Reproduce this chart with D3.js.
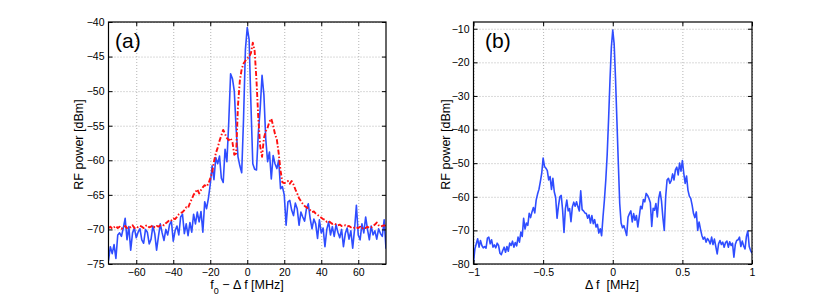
<!DOCTYPE html>
<html><head><meta charset="utf-8">
<script src="https://cdn.jsdelivr.net/npm/d3@7"></script>
<style>
body{margin:0;background:#fff;}
svg text{font-family:"Liberation Sans",Arial,Helvetica,sans-serif;fill:#000;}
</style></head><body>
<svg id="c" width="830" height="297"></svg>
<script>
// ---------- Panel (a) data: f0 - Δf from -75 to 75 MHz, 1 MHz step ----------
const aStart = -75, aStep = 1;
const blueA = [
-74.5,-72.5,-73.5,-72.2,-74.2,-70.8,-70.5,-71.0,-69.8,-68.4,
-71.5,-69.6,-73.0,-70.5,-69.8,-71.2,-70.4,-69.9,-71.5,-72.0,
-70.0,-70.4,-72.1,-71.4,-69.5,-70.6,-73.0,-71.0,-69.2,-70.5,
-71.6,-70.0,-70.8,-69.3,-68.8,-71.7,-70.2,-69.5,-70.8,-68.2,
-67.8,-70.6,-69.2,-70.9,-69.0,-70.4,-67.8,-69.2,-67.5,-68.9,
-67.4,-70.4,-66.0,-67.0,-65.5,-63.5,-60.8,-62.8,-59.6,-60.5,
-59.4,-62.6,-63.2,-58.4,-60.2,-54.5,-47.5,-48.2,-50.0,-55.5,
-59.5,-60.8,-61.8,-54.0,-44.0,-40.8,-42.5,-52.0,-60.5,-61.3,
-61.4,-56.0,-52.5,-47.7,-50.5,-56.9,-60.2,-58.8,-62.7,-59.3,
-60.5,-61.2,-60.0,-64.1,-63.8,-65.0,-69.4,-66.0,-65.8,-67.2,
-68.0,-66.2,-67.0,-69.4,-67.5,-68.2,-68.8,-67.0,-66.3,-68.4,
-69.9,-68.5,-69.2,-71.3,-68.6,-70.5,-69.8,-72.5,-70.0,-68.9,
-70.8,-69.6,-71.0,-69.3,-70.4,-71.2,-70.0,-72.5,-70.6,-69.8,
-71.4,-70.2,-72.7,-70.0,-66.5,-70.8,-71.5,-69.2,-70.5,-68.2,
-70.0,-71.5,-69.5,-70.8,-70.2,-71.4,-69.9,-70.6,-71.0,-68.6,
-72.8];
const redA = [
-69.8,-69.6,-69.9,-69.7,-69.5,-69.8,-69.6,-69.9,-69.7,-69.5,
-69.8,-69.6,-69.7,-69.4,-69.8,-69.6,-69.7,-69.5,-69.6,-69.8,
-69.5,-69.4,-69.7,-69.6,-69.4,-69.7,-69.5,-69.6,-69.4,-69.3,
-69.4,-69.1,-68.9,-68.6,-68.7,-68.4,-68.5,-68.2,-67.8,-67.6,
-67.5,-67.2,-66.8,-66.9,-66.2,-65.6,-65.0,-64.6,-64.2,-64.8,
-64.3,-63.9,-63.6,-63.8,-63.4,-62.6,-61.8,-60.2,-59.0,-58.2,
-57.2,-56.4,-55.6,-56.2,-56.8,-57.1,-56.8,-57.4,-59.2,-59.0,
-52.0,-48.5,-46.8,-46.0,-45.6,-45.3,-45.0,-44.5,-43.0,-44.2,
-48.5,-54.0,-58.0,-59.5,-56.8,-55.8,-55.3,-54.4,-54.0,-55.0,
-56.2,-57.0,-59.0,-61.5,-63.2,-63.3,-63.2,-63.0,-63.4,-63.0,
-63.5,-64.2,-64.8,-65.5,-65.9,-66.3,-66.6,-66.8,-67.0,-67.2,
-67.5,-67.4,-67.7,-67.9,-68.1,-68.3,-68.5,-68.6,-68.9,-68.8,
-69.0,-69.2,-69.1,-69.3,-69.4,-69.3,-69.5,-69.5,-69.4,-69.6,
-69.5,-69.7,-69.6,-69.8,-69.7,-69.8,-69.6,-69.9,-69.7,-69.8,
-69.6,-69.8,-69.7,-69.5,-69.3,-69.0,-69.4,-69.6,-69.5,-69.4,
-69.5];
const aXTicks = [-60,-40,-20,0,20,40,60];
const aYTicks = [-75,-70,-65,-60,-55,-50,-45,-40];

// ---------- Panel (b) data: Δf from -1 to 1 MHz, 0.01 MHz step ----------
const bStart = -1, bStep = 0.01;
const blueB = [
-79.5,-75.5,-74.0,-72.5,-75.0,-73.0,-74.5,-75.2,-74.8,-75.3,
-72.3,-72.0,-74.0,-72.8,-75.0,-74.3,-75.2,-73.8,-74.5,-76.8,
-77.2,-76.0,-75.0,-76.5,-74.8,-76.2,-73.8,-74.5,-73.2,-75.0,
-73.6,-74.6,-72.0,-73.5,-70.5,-71.8,-66.4,-69.6,-67.8,-68.5,
-64.9,-66.2,-64.5,-63.2,-64.8,-61.0,-59.2,-57.8,-55.5,-53.0,
-48.5,-51.0,-51.5,-52.2,-55.0,-54.0,-57.8,-54.5,-58.5,-60.2,
-66.4,-62.8,-60.0,-59.6,-64.0,-70.6,-63.5,-61.0,-64.2,-63.5,
-67.4,-63.0,-61.6,-62.8,-61.5,-63.0,-64.2,-58.2,-63.8,-64.2,
-64.8,-65.0,-66.4,-65.4,-67.8,-65.6,-68.0,-66.8,-69.0,-68.2,
-70.8,-69.5,-71.6,-66.0,-61.0,-55.0,-47.5,-37.0,-25.5,-15.5,
-10.4,
-14.5,-25.0,-37.5,-50.0,-62.0,-67.8,-69.2,-68.6,-70.0,-71.5,
-66.0,-65.0,-64.2,-67.5,-65.0,-67.0,-65.6,-69.0,-66.0,-62.8,
-63.6,-60.8,-61.5,-59.0,-59.6,-60.5,-61.8,-68.8,-63.4,-64.0,
-62.0,-66.0,-60.5,-58.5,-61.2,-66.2,-70.0,-60.0,-55.0,-54.5,
-56.0,-55.2,-53.2,-55.0,-52.0,-51.2,-53.5,-50.0,-52.4,-49.2,
-53.0,-56.0,-53.8,-58.0,-59.8,-60.5,-62.5,-65.0,-66.2,-64.5,
-70.0,-67.5,-69.6,-71.5,-72.6,-72.0,-73.5,-72.4,-73.0,-74.0,
-72.0,-74.2,-72.6,-74.8,-77.0,-74.0,-73.0,-74.2,-73.5,-75.0,
-73.6,-73.2,-75.0,-73.4,-74.5,-73.8,-78.0,-74.2,-73.0,-72.8,
-72.0,-74.8,-73.2,-74.6,-75.5,-71.8,-70.2,-74.8,-76.0,-76.8];
const bXTicks = [-1,-0.5,0,0.5,1];
const bYTicks = [-80,-70,-60,-50,-40,-30,-20,-10];

const BLUE = "#2f4dff", RED = "#ff1010";
const svg = d3.select("#c");

function panel(cfg){
  const {x, y, xTicks, yTicks, id} = cfg;
  const [x0,x1] = x.range(), [y0,y1] = y.range(); // y0 bottom, y1 top
  const g = svg.append("g");
  g.append("clipPath").attr("id", id).append("rect")
    .attr("x", x0).attr("y", y1).attr("width", x1-x0).attr("height", y0-y1);
  // grid
  const gridX = g.append("g").attr("transform", `translate(0,${y0})`)
    .call(d3.axisBottom(x).tickValues(xTicks).tickSize(-(y0-y1)).tickFormat(""));
  const gridY = g.append("g").attr("transform", `translate(${x0},0)`)
    .call(d3.axisLeft(y).tickValues(yTicks).tickSize(-(x1-x0)).tickFormat(""));
  [gridX, gridY].forEach(a=>{
    a.select(".domain").remove();
    a.selectAll("line").attr("stroke","#b4b4b4").attr("stroke-width",1).attr("stroke-dasharray","1,2");
  });
  // lines
  const plot = g.append("g").attr("clip-path", `url(#${id})`);
  cfg.series.forEach(s=>{
    const line = d3.line().x((d,i)=>x(s.start + i*s.step)).y(d=>y(d));
    plot.append("path").datum(s.values).attr("d", line)
      .attr("fill","none").attr("stroke", s.color).attr("stroke-width", s.width)
      .attr("stroke-dasharray", s.dash || null).attr("stroke-linejoin","round");
  });
  // axes (ticks inward) + labels
  const fmt = cfg.fmt;
  const axB = g.append("g").attr("transform", `translate(0,${y0})`)
    .call(d3.axisBottom(x).tickValues(xTicks).tickSize(-4).tickPadding(5).tickFormat(fmt));
  const axT = g.append("g").attr("transform", `translate(0,${y1})`)
    .call(d3.axisTop(x).tickValues(xTicks).tickSize(-4).tickFormat(""));
  const axL = g.append("g").attr("transform", `translate(${x0},0)`)
    .call(d3.axisLeft(y).tickValues(yTicks).tickSize(-4).tickPadding(4).tickFormat(fmt));
  const axR = g.append("g").attr("transform", `translate(${x1},0)`)
    .call(d3.axisRight(y).tickValues(yTicks).tickSize(-4).tickFormat(""));
  [axB,axT,axL,axR].forEach(a=>{
    a.select(".domain").remove();
    a.selectAll("line").attr("stroke","#000").attr("stroke-width",1);
    a.selectAll("text").attr("font-size","10.5px").attr("font-family",'"Liberation Sans",Arial,sans-serif');
  });
  g.append("rect").attr("x", x0).attr("y", y1).attr("width", x1-x0).attr("height", y0-y1)
    .attr("fill","none").attr("stroke","#000").attr("stroke-width",1.2);
  return g;
}

const fmtNum = d => (d < 0 ? "\u2212" : "") + Math.abs(d);

// Panel (a)
const xa = d3.scaleLinear().domain([-75,75]).range([108.5,386]);
const ya = d3.scaleLinear().domain([-75,-40]).range([264,22]);
const ga = panel({id:"clipA", x:xa, y:ya, xTicks:aXTicks, yTicks:aYTicks, fmt:fmtNum,
  series:[
    {values:blueA, start:aStart, step:aStep, color:BLUE, width:1.6},
    {values:redA, start:aStart, step:aStep, color:RED, width:1.9, dash:"5,2,1.5,2"}
  ]});
ga.append("text").attr("x",115).attr("y",48).attr("font-size","21px").text("(a)");
ga.append("text").attr("transform","translate(83,144.5) rotate(-90)")
  .attr("text-anchor","middle").attr("font-size","12.5px").text("RF power [dBm]");
const xl = ga.append("text").attr("x",247).attr("y",289).attr("text-anchor","middle").attr("font-size","12.5px");
xl.append("tspan").text("f");
xl.append("tspan").attr("dy",5).attr("font-size","9px").text("0");
xl.append("tspan").attr("dy",-5).text(" \u2212 \u0394 f [MHz]");

// Panel (b)
const xb = d3.scaleLinear().domain([-1,1]).range([473.5,752]);
const yb = d3.scaleLinear().domain([-80,-8]).range([264,22]);
const gb = panel({id:"clipB", x:xb, y:yb, xTicks:bXTicks, yTicks:bYTicks, fmt:fmtNum,
  series:[
    {values:blueB, start:bStart, step:bStep, color:BLUE, width:1.6}
  ]});
gb.append("text").attr("x",485).attr("y",48).attr("font-size","21px").text("(b)");
gb.append("text").attr("transform","translate(450,144.5) rotate(-90)")
  .attr("text-anchor","middle").attr("font-size","12.5px").text("RF power [dBm]");
gb.append("text").attr("x",612).attr("y",289).attr("text-anchor","middle").attr("font-size","12.5px")
  .attr("xml:space","preserve").style("white-space","pre").text("\u0394 f  [MHz]");
</script>
</body></html>
